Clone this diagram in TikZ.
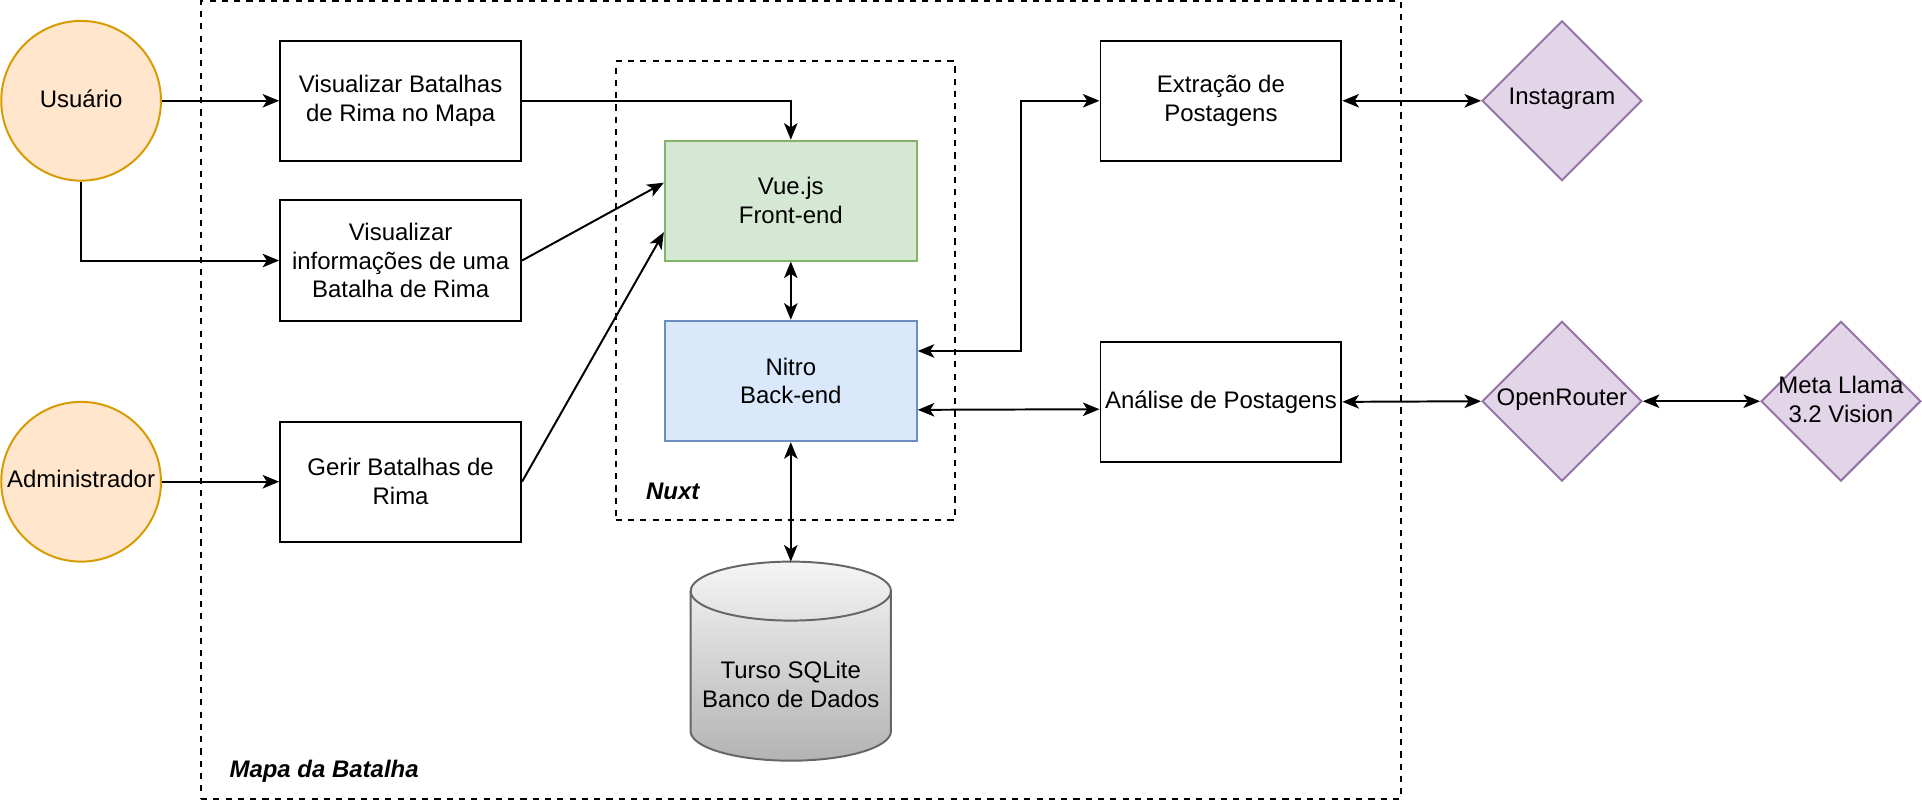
\documentclass[tikz,border=0pt]{standalone}
\usepackage{fontspec}
\setmainfont{Liberation Sans}
\usetikzlibrary{arrows.meta,shapes.geometric}
\definecolor{orfill}{HTML}{FFE6CC}\definecolor{ordraw}{HTML}{D79B00}
\definecolor{grfill}{HTML}{D5E8D4}\definecolor{grdraw}{HTML}{82B366}
\definecolor{blfill}{HTML}{DAE8FC}\definecolor{bldraw}{HTML}{6C8EBF}
\definecolor{pufill}{HTML}{E1D5E7}\definecolor{pudraw}{HTML}{9673A6}
\definecolor{cyltopc}{HTML}{F5F5F5}\definecolor{cylbotc}{HTML}{B3B3B3}\definecolor{cyldraw}{HTML}{666666}
\begin{document}
\begin{tikzpicture}[x=1pt,y=-1pt,
  font=\fontsize{19.5}{23.4}\selectfont,
  line width=1.6pt,
  >={Stealth[length=13.5pt,width=11pt,inset=3.5pt]},
  box/.style={draw=black, minimum width=196pt, minimum height=98pt, align=center, inner sep=0pt},
  actor/.style={circle, draw=ordraw, fill=orfill, minimum size=130pt, inner sep=0pt},
  dia/.style={diamond, draw=pudraw, fill=pufill, minimum width=130pt, minimum height=130pt, inner sep=0pt},
  container/.style={draw=black, dash pattern=on 5pt off 5pt, inner sep=0pt},
  grouplabel/.style={anchor=west, inner sep=0pt, font=\fontsize{19.5}{23.4}\selectfont\bfseries\itshape},
  txt/.style={align=center, inner sep=0pt}
]
\useasboundingbox (0,0) rectangle (1564,654);

% containers
\node[container, minimum width=976.5pt, minimum height=649pt] (mapa) at (651.75,325.5) {};
\node[grouplabel] (mapalbl) at (186,628) {Mapa da Batalha};
\node[container, minimum width=276pt, minimum height=373pt] (nuxt) at (639,236.5) {};
\node[grouplabel] (nuxtlbl) at (525,400) {Nuxt};

% actors
\node[actor] (usr) at (66,82) {};
\node[txt] (usrlbl) at (66,80) {Usuário};
\node[actor] (adm) at (66,392) {};
\node[txt] (admlbl) at (66,390) {Administrador};

% boxes
\node[box] (b1) at (326,82) {Visualizar Batalhas\\de Rima no Mapa};
\node[box] (b2) at (326,212) {Visualizar\\informações de uma\\Batalha de Rima};
\node[box] (b3) at (326,392) {Gerir Batalhas de\\Rima};
\node[box, draw=grdraw, fill=grfill, minimum width=205pt, minimum height=97.5pt] (vue) at (643.5,163.25) {Vue.js\\Front-end};
\node[box, draw=bldraw, fill=blfill, minimum width=205pt, minimum height=98pt] (nitro) at (643.5,310) {Nitro\\Back-end};
\node[box] (ext) at (993.5,82) {Extração de\\Postagens};
\node[box] (ana) at (993.5,327) {Análise de Postagens};

% database cylinder
\path[draw=cyldraw, top color=cyltopc, bottom color=cylbotc]
  (562,481) -- (562,595) arc[start angle=180, end angle=0, x radius=81.5, y radius=24]
  -- (725,481) arc[start angle=0, end angle=-180, x radius=81.5, y radius=24] -- cycle;
\draw[cyldraw] (562,481) arc[start angle=180, end angle=0, x radius=81.5, y radius=24];
\node[txt] (db) at (643.5,557) {Turso SQLite\\Banco de Dados};
\coordinate (dbtop) at (643.5,457);

% external services
\node[dia] (insta) at (1271,82) {};
\node[txt] (instalbl) at (1271,80) {Instagram};
\node[dia] (openr) at (1271,326.5) {};
\node[txt] (openrlbl) at (1271,325) {OpenRouter};
\node[dia] (meta) at (1498,326.5) {};
\node[txt] (metalbl) at (1498,325) {Meta Llama\\3.2 Vision};

% connectors
\coordinate (elb) at (830.6,200);
\draw[->] (usr.east) -- (b1.west);
\draw[->] (usr.south) |- (b2.west);
\draw[->] (adm.east) -- (b3.west);
\draw[->] (b1.east) -| (vue.north);
\draw[->] (b2.east) -- ([yshift=14.6pt]vue.west);
\draw[->] (b3.east) -- ([yshift=-25.7pt]vue.west);
\draw[<->] (vue.south) -- (nitro.north);
\draw[<->] ([yshift=24.4pt]nitro.east) -| (elb) |- (ext.west);
\draw[<->] ([yshift=-23.5pt]nitro.east) -- ([yshift=-6pt]ana.west);
\draw[<->] (nitro.south) -- (dbtop);
\draw[<->] (ext.east) -- (insta.west);
\draw[<->] (ana.east) -- (openr.west);
\draw[<->] (openr.east) -- (meta.west);
\end{tikzpicture}
\end{document}
